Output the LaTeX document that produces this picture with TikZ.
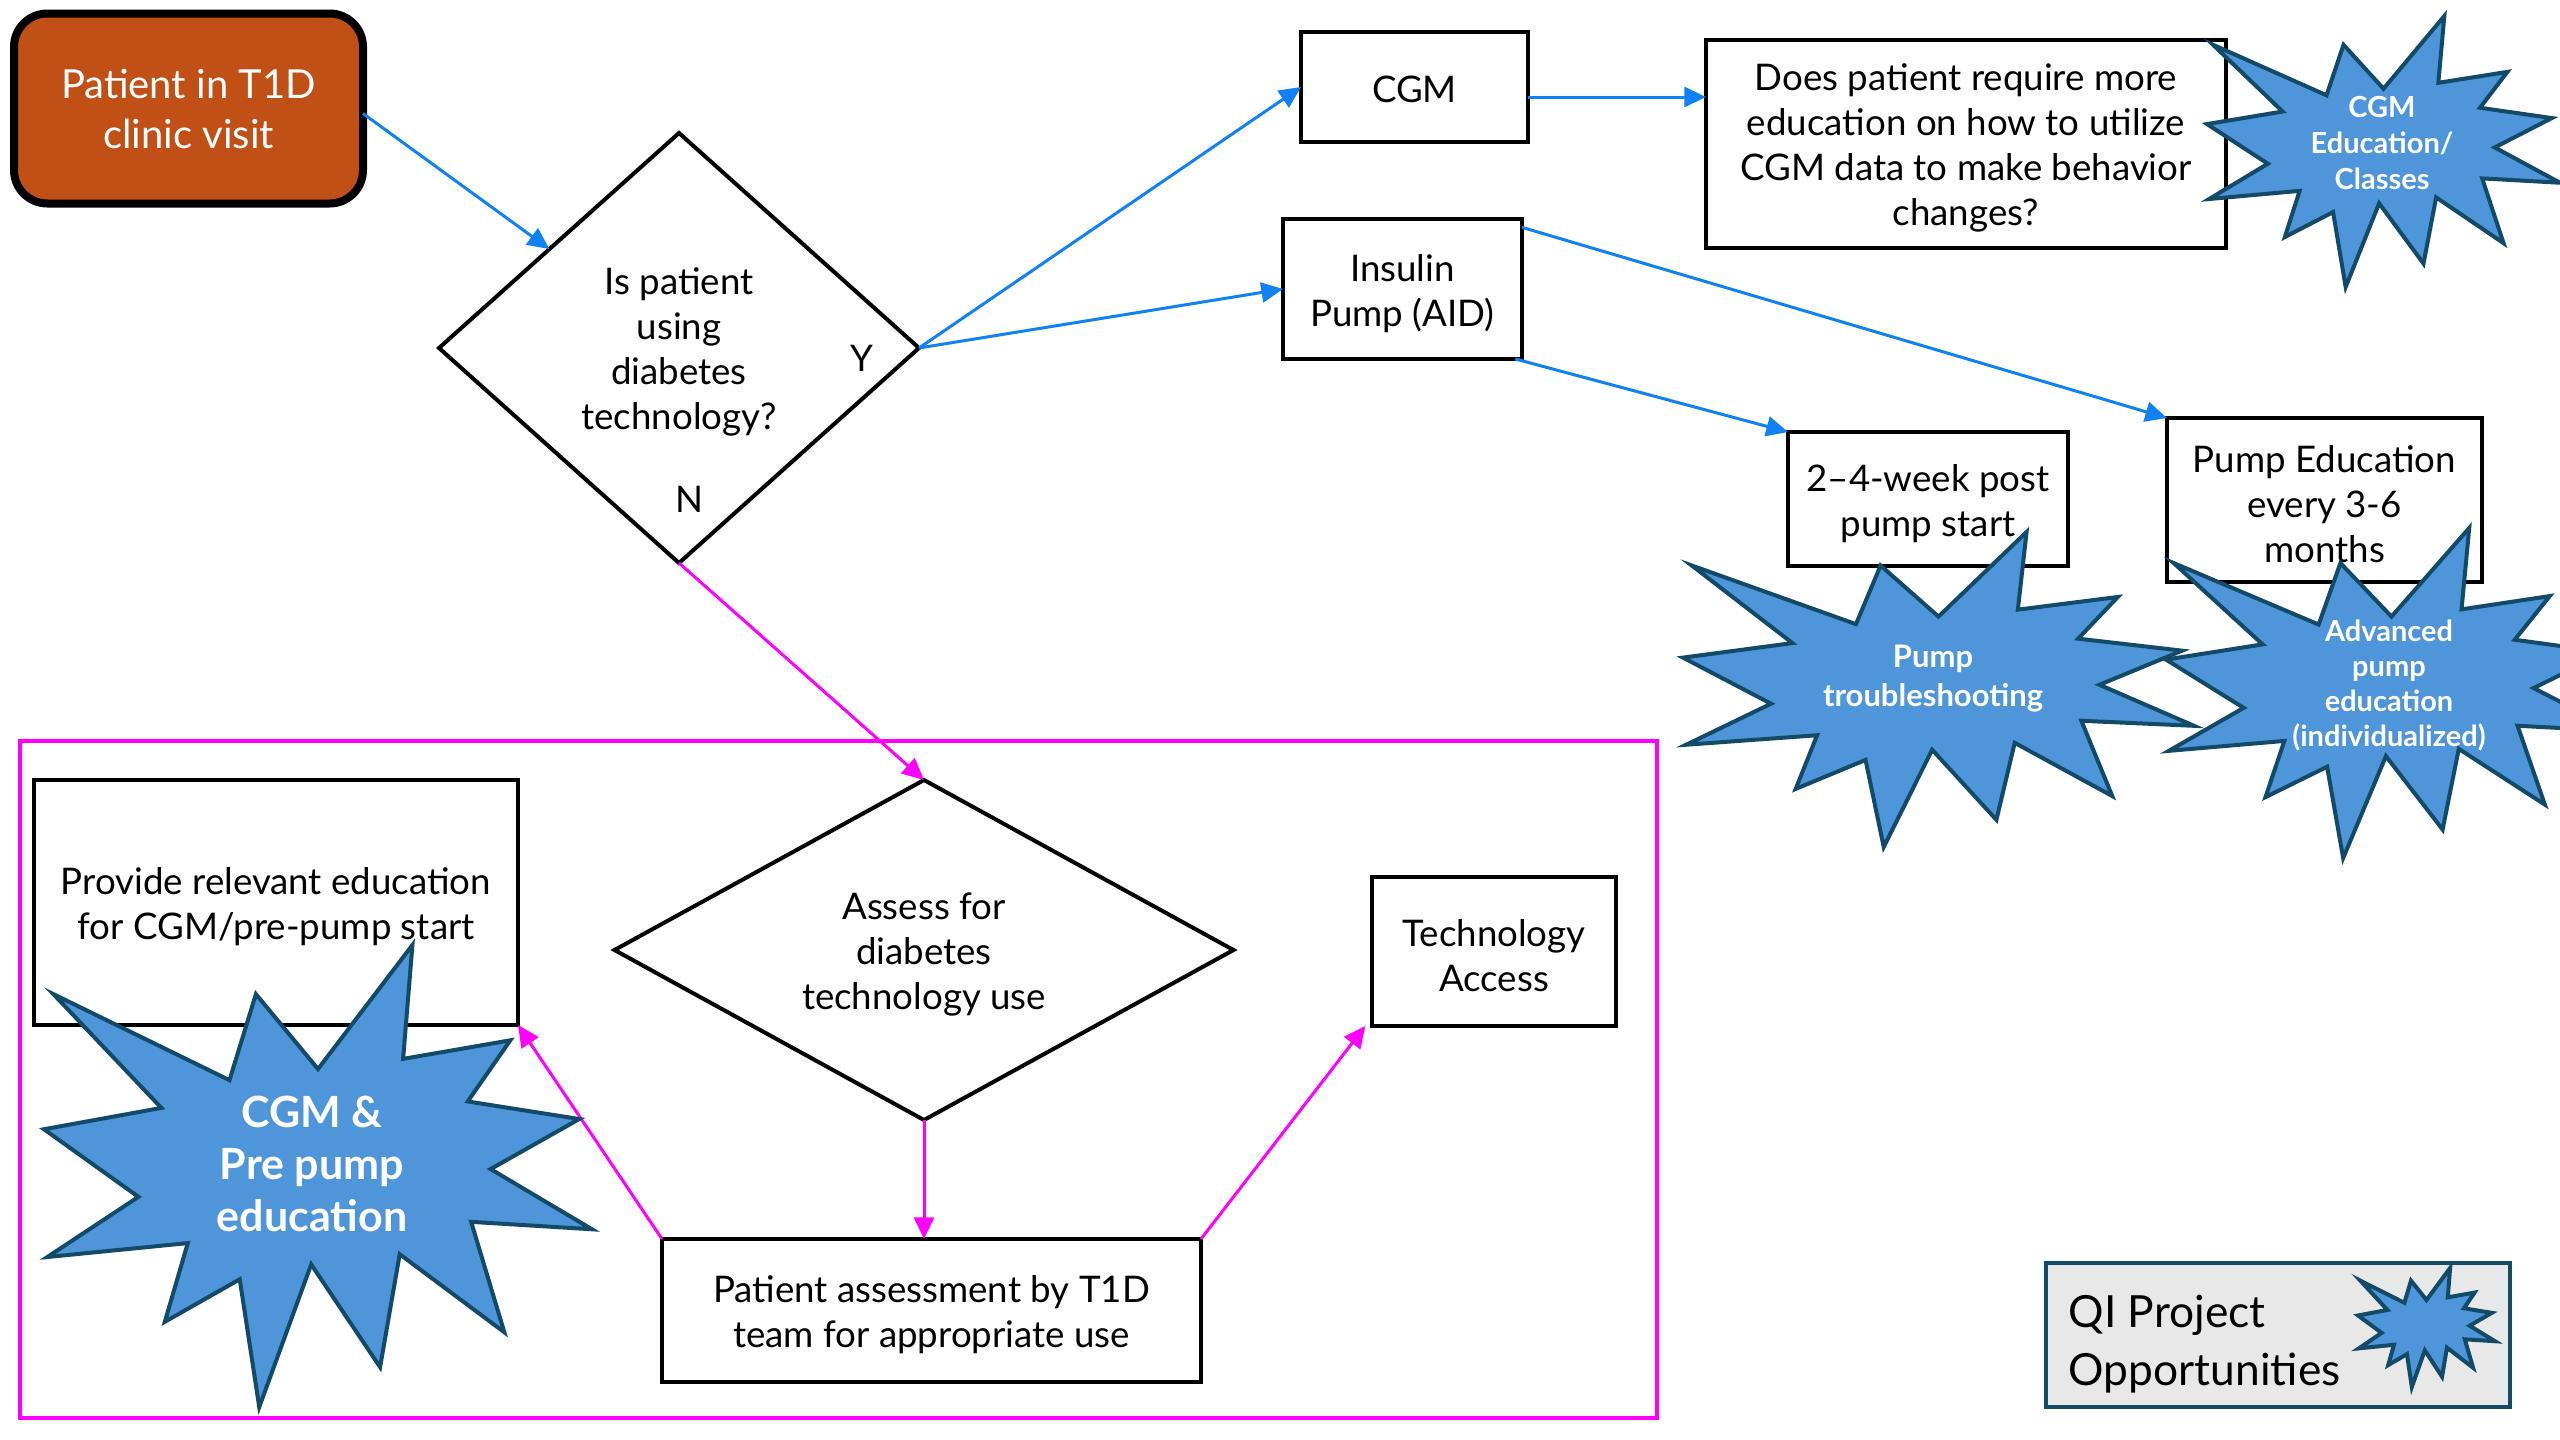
\documentclass[tikz,border=0pt]{standalone}
\usepackage{fontspec}
\setmainfont{Lato}
\usetikzlibrary{shapes.geometric,arrows.meta,calc}

\definecolor{startfill}{RGB}{192,80,21}
\definecolor{flowblue}{RGB}{17,130,245}
\definecolor{recheck}{RGB}{255,0,255}
\definecolor{burstfill}{RGB}{78,149,217}
\definecolor{burstline}{RGB}{19,74,104}
\definecolor{keyfill}{RGB}{232,232,232}

\tikzset{
  bodyfont/.style={font=\fontsize{11}{13.5}\selectfont},
  % the text sits slightly below the geometric centre of each shape
  inside/.style={label={[bodyfont, align=center, inner sep=0pt, yshift=-1.3pt]center:{#1}}},
  box/.style={rectangle, draw=black, line width=1.2pt, fill=white,
    inner sep=0pt, outer sep=0pt, inside={#1}},
  decision/.style={diamond, draw=black, line width=1.2pt, fill=white,
    inner sep=0pt, outer sep=0pt, inside={#1}},
  flow/.style={draw=flowblue, line width=0.9pt, -{Triangle[length=6.5pt,width=6pt]}},
  loopback/.style={draw=recheck, line width=0.9pt, -{Triangle[length=6.5pt,width=6pt]}},
  burst/.style={draw=burstline, fill=burstfill, line width=1.2pt, line join=miter},
  bursttext/.style={text=white, align=center, inner sep=0pt}
}

% twelve-point explosion drawn inside the box (x0,y0) of size w x h
\newcommand\explosion[4]{%
  \begin{scope}[shift={(#1,#2)}, xscale=#3/100, yscale=#4/100]
    \draw[burst] (50,26.85) -- (67.23,0) -- (65.53,24.65) -- (85.09,20.63)
      -- (77.32,33.86) -- (97.67,37.67) -- (81.50,48.50) -- (100,61.53)
      -- (77.95,59.92) -- (84.00,83.82) -- (64.91,66.93) -- (61.33,91.37)
      -- (48.76,69.14) -- (39.28,100) -- (35.72,72.35) -- (22.05,81.56)
      -- (26.24,64.52) -- (0.625,67.53) -- (17.23,54.51) -- (0,39.88)
      -- (21.42,35.26) -- (1.71,10.63) -- (33.85,29.26) -- (38.67,10.63)
      -- cycle;
  \end{scope}}

\begin{document}
\begin{tikzpicture}[x=0.3pt, y=-0.3pt]
  \clip (0,0) rectangle (2560,1440);
  \fill[white] (0,0) rectangle (2560,1440);

  % frame around the "not using technology" branch
  \draw[recheck, line width=1pt] (20,741) rectangle (1657,1418);

  % main flow
  \node[rectangle, rounded corners=10pt, draw=black, line width=2.4pt, fill=startfill,
        text=white, align=center, inner sep=0pt, outer sep=0pt,
        minimum width=104.7pt, minimum height=57pt,
        font=\fontsize{12}{15}\selectfont] (start) at (188.5,108.5)
        {Patient in T1D\\clinic visit};

  \node[decision={Is patient\\using\\diabetes\\technology?}, aspect=1.116,
        minimum width=144pt, minimum height=129pt] (d1) at (679,348) {};
  \node[bodyfont, inner sep=0pt] (ylab) at (862,358) {Y};
  \node[bodyfont, inner sep=0pt] (nlab) at (689,499) {N};

  \node[box={\raisebox{1.3pt}{CGM}}, minimum width=68.1pt, minimum height=33pt]
        (cgm) at (1414.5,87) {};
  \node[box={Insulin\\Pump (AID)}, minimum width=71.7pt, minimum height=42pt]
        (ins) at (1402.5,289) {};
  \node[box={Does patient require more\\education on how to utilize\\CGM data to make behavior\\changes?},
        minimum width=156pt, minimum height=62.4pt] (q) at (1966,144) {};
  \node[box={2–4-week post\\pump start}, minimum width=84pt, minimum height=40.2pt]
        (wk) at (1928,499) {};
  \node[box={Pump Education\\every 3-6\\months}, minimum width=94.5pt, minimum height=49.2pt]
        (pe) at (2324.5,500) {};

  % branch without technology
  \node[box={Provide relevant education\\for CGM/pre-pump start},
        minimum width=145.2pt, minimum height=73.5pt] (prov) at (276,902.5) {};
  \node[decision={Assess for\\diabetes\\technology use}, aspect=1.82,
        minimum width=185.7pt, minimum height=102pt] (d2) at (924,950) {};
  \node[box={Technology\\Access}, minimum width=73.2pt, minimum height=44.7pt]
        (tech) at (1494,951.5) {};
  \node[box={Patient assessment by T1D\\team for appropriate use},
        minimum width=161.7pt, minimum height=42.9pt] (pa) at (931.5,1310.5) {};

  % connectors
  \draw[flow] ([yshift=-1.5pt]start.east) -- ($(d1.west)!0.46!(d1.north)$);
  \draw[flow] (d1.east) -- (cgm.west);
  \draw[flow] (d1.east) -- (ins.west);
  \draw[flow] ([yshift=-3pt]cgm.east) -- ([yshift=-3pt]cgm.east -| q.west);
  \draw[flow] ([yshift=-2.5pt]ins.north east) -- (pe.north west);
  \draw[flow] ([xshift=-2pt]ins.south east) -- (wk.north west);

  \draw[loopback] (d1.south) -- (d2.north);
  \draw[loopback] (d2.south) -- (d2.south |- pa.north);
  \draw[loopback] (pa.north west) -- (prov.south east);
  \draw[loopback] (pa.north east) -- ([xshift=-2pt]tech.south west);

  % improvement opportunities
  \explosion{2207}{16}{353}{271}
  \node[bursttext, font=\bfseries\fontsize{8.7}{10.8}\selectfont] (cgmed) at (2382,143)
        {CGM\\Education/\\Classes};
  \explosion{1683}{532}{511}{315}
  \node[bursttext, font=\bfseries\fontsize{9.3}{11.7}\selectfont] (trouble) at (1933,679)
        {Pump\\troubleshooting};
  \explosion{2166}{528}{451}{330}
  \node[bursttext, font=\bfseries\fontsize{8.7}{10.5}\selectfont] (advanced) at (2389,686)
        {Advanced\\pump\\education\\(individualized)};
  \explosion{44}{945}{548}{462}
  \node[bursttext, font=\bfseries\fontsize{12.9}{15.6}\selectfont] (prepump) at (312,1164)
        {CGM \&\\Pre pump\\education};

  % key
  \node[rectangle, draw=burstline, line width=1.2pt, fill=keyfill, inner sep=0pt,
        outer sep=0pt, minimum width=139.2pt, minimum height=43.2pt] (key) at (2278,1335) {};
  \node[anchor=west, align=left, inner sep=0pt,
        font=\fontsize{13.3}{17.4}\selectfont] (keytext) at (2068,1344)
        {QI Project\\Opportunities};
  \explosion{2358}{1268}{137}{119}
\end{tikzpicture}
\end{document}
